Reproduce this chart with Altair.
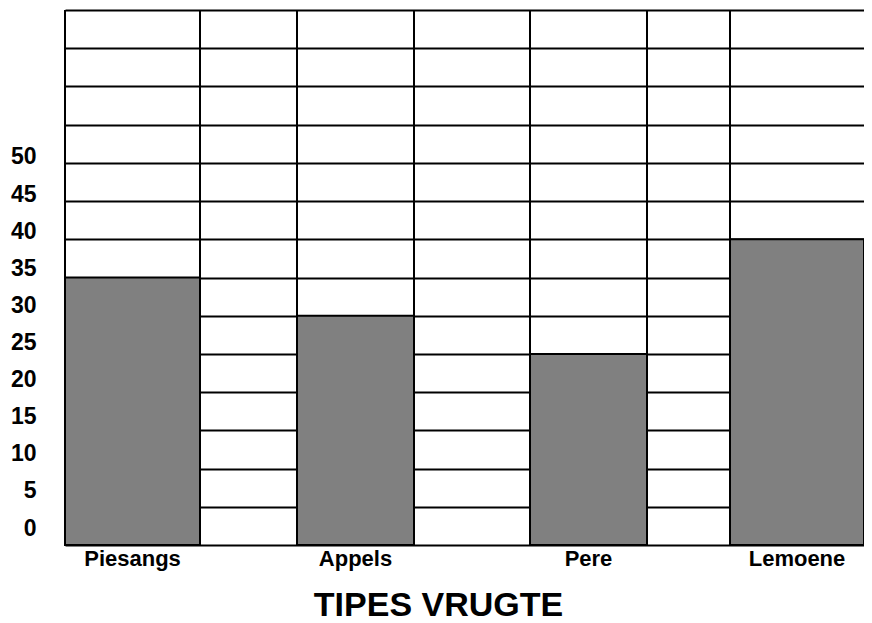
import altair as alt
import pandas as pd

# ---- data ----
fruits = ["Piesangs", "Appels", "Pere", "Lemoene"]
counts = [35, 30, 25, 40]
y_tick_labels = [0, 5, 10, 15, 20, 25, 30, 35, 40, 45, 50]
grid_values = [0, 5, 10, 15, 20, 25, 30, 35, 40, 45, 50, 55, 60, 65, 70]

# ---- layout: table column widths (bar, gap, bar, gap, bar, gap, bar) ----
column_widths = [135, 97, 117, 116, 117, 83, 134]

edges = [0]
for w in column_widths:
    edges.append(edges[-1] + w)
total_w = edges[-1]

bar_cols = [0, 2, 4, 6]
df_bars = pd.DataFrame({
    "fruit": fruits,
    "count": counts,
    "base": [0] * len(fruits),
    "x0": [edges[c] for c in bar_cols],
    "x1": [edges[c + 1] for c in bar_cols],
})
df_bars["xc"] = (df_bars["x0"] + df_bars["x1"]) / 2
df_edges = pd.DataFrame({"edge": edges[:-1]})
df_ticks = pd.DataFrame({"v": y_tick_labels})

W, H = total_w, 535
FONT = "Liberation Sans"

xscale = alt.Scale(domain=[0, total_w], nice=False, zero=False)
yscale = alt.Scale(domain=[0, 70], nice=False, zero=False)

bars = alt.Chart(df_bars).mark_rect(
    fill="#808080", stroke="black", strokeWidth=2
).encode(
    x=alt.X("x0:Q", scale=xscale, axis=None),
    x2="x1",
    y=alt.Y("count:Q", scale=yscale, axis=alt.Axis(
        orient="left", values=grid_values, grid=True, gridColor="black",
        gridWidth=2, gridOpacity=1, labels=False, ticks=False, domain=False,
        title=None)),
    y2="base",
)

vlines = alt.Chart(df_edges).mark_rule(color="black", strokeWidth=2).encode(
    x=alt.X("edge:Q", scale=xscale, axis=None)
)

xlabels = alt.Chart(df_bars).mark_text(
    font=FONT, fontWeight="bold", fontSize=22, color="black",
    align="center", baseline="alphabetic"
).encode(
    x=alt.X("xc:Q", scale=xscale, axis=None),
    y=alt.value(H + 21),
    text="fruit:N",
)

ylabels = alt.Chart(df_ticks).mark_point(opacity=0).encode(
    y=alt.Y("v:Q", scale=alt.Scale(domain=[-2.29, 69.81], nice=False, zero=False),
            axis=alt.Axis(orient="left", values=y_tick_labels, ticks=False,
                          domain=False, grid=False, labelFont=FONT,
                          labelFontSize=23, labelFontWeight="bold",
                          labelColor="black", labelPadding=29,
                          labelAlign="right", labelBaseline="middle",
                          labelOverlap=False, title=None)),
)

chart = alt.layer(bars, vlines, xlabels, ylabels).resolve_scale(
    y="independent"
).properties(
    width=W,
    height=H,
    padding={"left": 57, "top": 2, "right": 0, "bottom": 78},
    autosize=alt.AutoSizeParams(type="none"),
    title=alt.TitleParams(
        "TIPES VRUGTE", orient="bottom", anchor="middle", fontSize=34,
        font=FONT, fontWeight="bold", color="black", offset=19, dx=-26,
    ),
).configure_view(stroke=None)

chart.save("out.html", embed_options={"renderer": "svg", "actions": False})
